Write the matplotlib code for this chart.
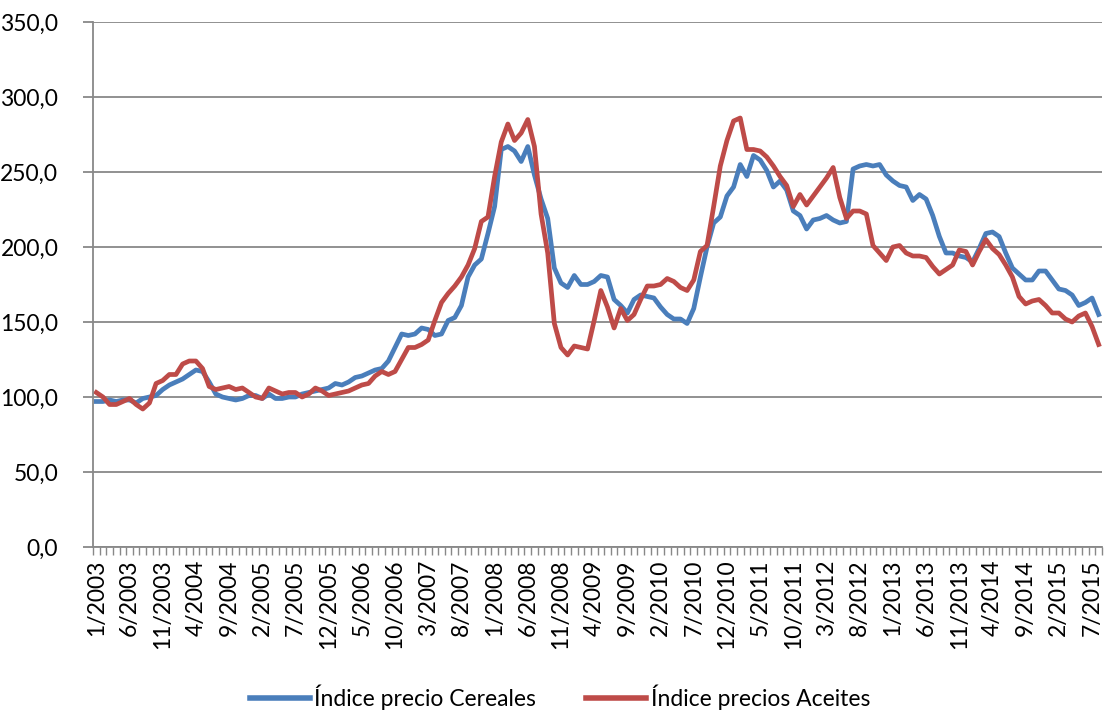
import numpy as np
import matplotlib
matplotlib.use("Agg")
import matplotlib.pyplot as plt
from matplotlib.ticker import FuncFormatter

plt.rcParams['font.family'] = ['Lato', 'DejaVu Sans']

# indices mensuales 1/2003 - 8/2015
cereales = [97, 97, 98, 97, 98, 98, 96, 99, 100, 101,
            105, 108, 110, 112, 115, 118, 117, 110, 102, 100,
            99, 98, 99, 101, 101, 99, 102, 99, 99, 100,
            100, 102, 103, 104, 105, 106, 109, 108, 110, 113,
            114, 116, 118, 119, 124, 133, 142, 141, 142, 146,
            145, 141, 142, 151, 153, 161, 180, 188, 192, 209,
            227, 265, 267, 264, 257, 267, 248, 232, 219, 186,
            176, 173, 181, 175, 175, 177, 181, 180, 165, 161,
            156, 165, 168, 167, 166, 160, 155, 152, 152, 149,
            159, 180, 200, 216, 220, 234, 240, 255, 247, 261,
            258, 251, 240, 244, 238, 224, 221, 212, 218, 219,
            221, 218, 216, 217, 252, 254, 255, 254, 255, 248,
            244, 241, 240, 231, 235, 232, 221, 207, 196, 196,
            194, 193, 190, 199, 209, 210, 207, 196, 186, 182,
            178, 178, 184, 184, 178, 172, 171, 168, 161, 163,
            166, 155]
aceites = [103, 100, 95, 95, 97, 99, 95, 92, 96, 109,
           111, 115, 115, 122, 124, 124, 119, 107, 105, 106,
           107, 105, 106, 103, 100, 99, 106, 104, 102, 103,
           103, 100, 102, 106, 104, 101, 102, 103, 104, 106,
           108, 109, 114, 117, 115, 117, 125, 133, 133, 135,
           138, 151, 163, 169, 174, 180, 188, 199, 217, 220,
           247, 270, 282, 271, 276, 285, 267, 222, 196, 149,
           133, 128, 134, 133, 132, 151, 171, 160, 146, 159,
           151, 155, 165, 174, 174, 175, 179, 177, 173, 171,
           178, 197, 201, 227, 254, 271, 284, 286, 265, 265,
           264, 260, 254, 247, 241, 227, 235, 228, 234, 240,
           246, 253, 233, 219, 224, 224, 222, 201, 196, 191,
           200, 201, 196, 194, 194, 193, 187, 182, 185, 188,
           198, 197, 188, 197, 205, 199, 195, 188, 180, 167,
           162, 164, 165, 161, 156, 156, 152, 150, 154, 156,
           147, 135]
meses = [f"{m}/{a}" for a in range(2003, 2016) for m in range(1, 13)][:len(cereales)]

x = np.arange(len(cereales))
gris = '#888888'

fig = plt.figure(figsize=(11.04, 7.11), dpi=100)
ax = fig.add_axes([93/1104, 1-547/711, (1102-93)/1104, (547-22)/711])

ax.plot(x, cereales, color='#4A7EBB', lw=3.4, label='Índice precio Cereales', solid_joinstyle='round')
ax.plot(x, aceites, color='#BE4B48', lw=3.4, label='Índice precios Aceites', solid_joinstyle='round')

ax.set_xlim(-0.5, len(x) - 0.5)
ax.set_ylim(0, 350)
ax.set_yticks(range(0, 351, 50))
ax.yaxis.set_major_formatter(FuncFormatter(lambda v, p: f"{v:.1f}".replace('.', ',')))
ax.yaxis.grid(True, color=gris, lw=1.3)
ax.set_axisbelow(True)

for s in ['top', 'right']:
    ax.spines[s].set_visible(False)
for s in ['left', 'bottom']:
    ax.spines[s].set_color(gris)
    ax.spines[s].set_linewidth(1.3)

ax.tick_params(axis='y', length=7, width=1.3, color=gris, labelsize=16.5, pad=18)
ax.set_xticks(x[::5])
ax.set_xticklabels(meses[::5], rotation=90, fontsize=16.5)
ax.set_xticks(np.arange(-0.5, len(x), 1), minor=True)
ax.tick_params(axis='x', which='major', length=0, pad=9)
ax.tick_params(axis='x', which='minor', length=6, width=1.0, color=gris)

leg = fig.legend(loc='center', bbox_to_anchor=(560/1104, 1-697/711), ncol=2, frameon=False,
                 fontsize=16.5, handlelength=2.6, handletextpad=0.2, columnspacing=2.2)
for h in leg.get_lines():
    h.set_linewidth(4)

fig.savefig('out.png', dpi=100)
